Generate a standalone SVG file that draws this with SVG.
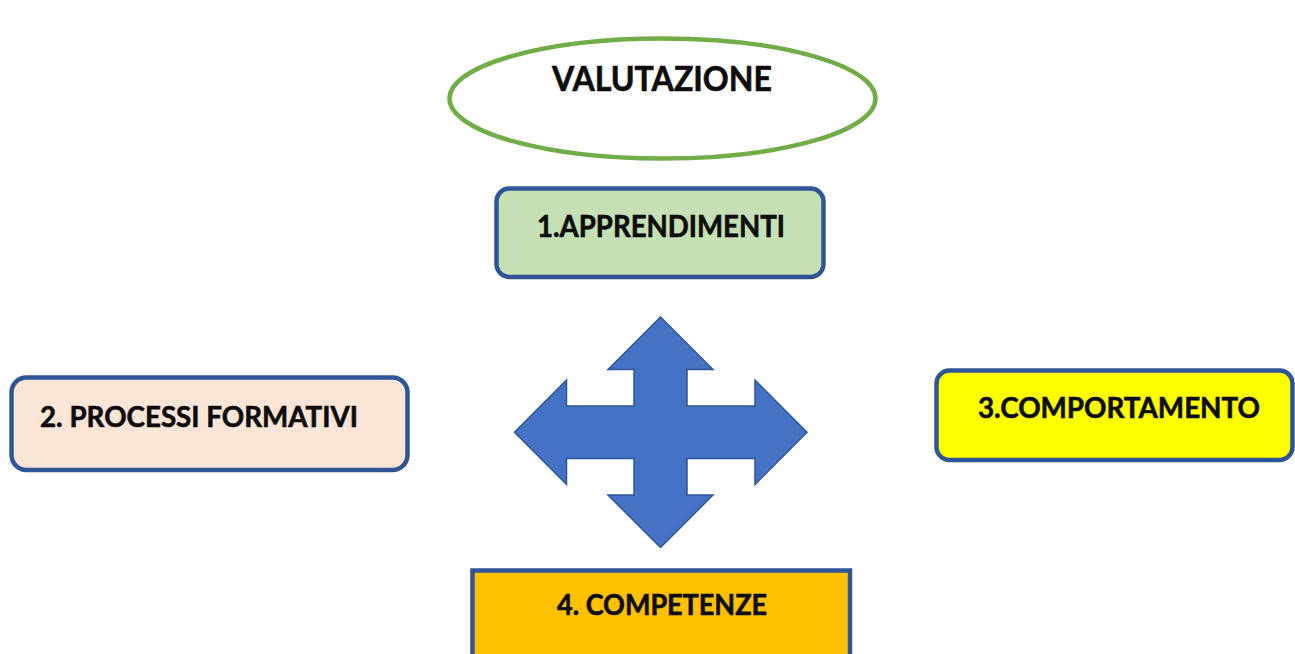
<svg xmlns="http://www.w3.org/2000/svg" width="1295" height="654" viewBox="0 0 1295 654">
  <style>
    .lbl { font-family: Lato, "Open Sans", "Liberation Sans", sans-serif; font-weight: bold; fill: #0d0d0d; stroke: #0d0d0d; stroke-width: 0.6; }
    .box { stroke: #2F5597; stroke-width: 4.5; }
  </style>
  <rect width="1295" height="654" fill="#ffffff"/>
  <g id="valutazione">
    <ellipse cx="662.5" cy="98.5" rx="213" ry="60" fill="#ffffff" stroke="#70AD47" stroke-width="4.5"/>
    <text class="lbl" x="552" y="91" font-size="33.5" textLength="220" lengthAdjust="spacingAndGlyphs">VALUTAZIONE</text>
  </g>
  <g id="apprendimenti">
    <rect class="box" x="496.5" y="188.5" width="327" height="88.5" rx="13" fill="#C5E0B4"/>
    <text class="lbl" x="537" y="237" font-size="29.5" textLength="248" lengthAdjust="spacingAndGlyphs">1.APPRENDIMENTI</text>
  </g>
  <g id="processi-formativi">
    <rect class="box" x="11.5" y="377.5" width="396" height="92.5" rx="15" fill="#FBE5D6"/>
    <text class="lbl" x="40" y="427" font-size="28.5" textLength="318" lengthAdjust="spacingAndGlyphs">2. PROCESSI FORMATIVI</text>
  </g>
  <g id="comportamento">
    <rect class="box" x="936.5" y="370.5" width="356" height="89.5" rx="13" fill="#FFFF00"/>
    <text class="lbl" x="978" y="418" font-size="28.5" textLength="282" lengthAdjust="spacingAndGlyphs">3.COMPORTAMENTO</text>
  </g>
  <g id="competenze">
    <rect class="box" x="472.5" y="570.5" width="377.5" height="100" fill="#FFC000"/>
    <text class="lbl" x="557" y="615" font-size="28.5" textLength="210" lengthAdjust="spacingAndGlyphs">4. COMPETENZE</text>
  </g>
  <g id="connectors">
    <path d="M660.5,317 L713,369.5 L687,369.5 L687,406 L755,406 L755,380 L807,432.3 L755,484.5 L755,458.5 L687,458.5 L687,495 L713,495 L660.5,547.5 L608,495 L634,495 L634,458.5 L566.5,458.5 L566.5,484.5 L514.5,432.3 L566.5,380 L566.5,406 L634,406 L634,369.5 L608,369.5 Z" fill="#4472C4" stroke="#2F5597" stroke-width="1.5" stroke-linejoin="miter"/>
  </g>
</svg>
